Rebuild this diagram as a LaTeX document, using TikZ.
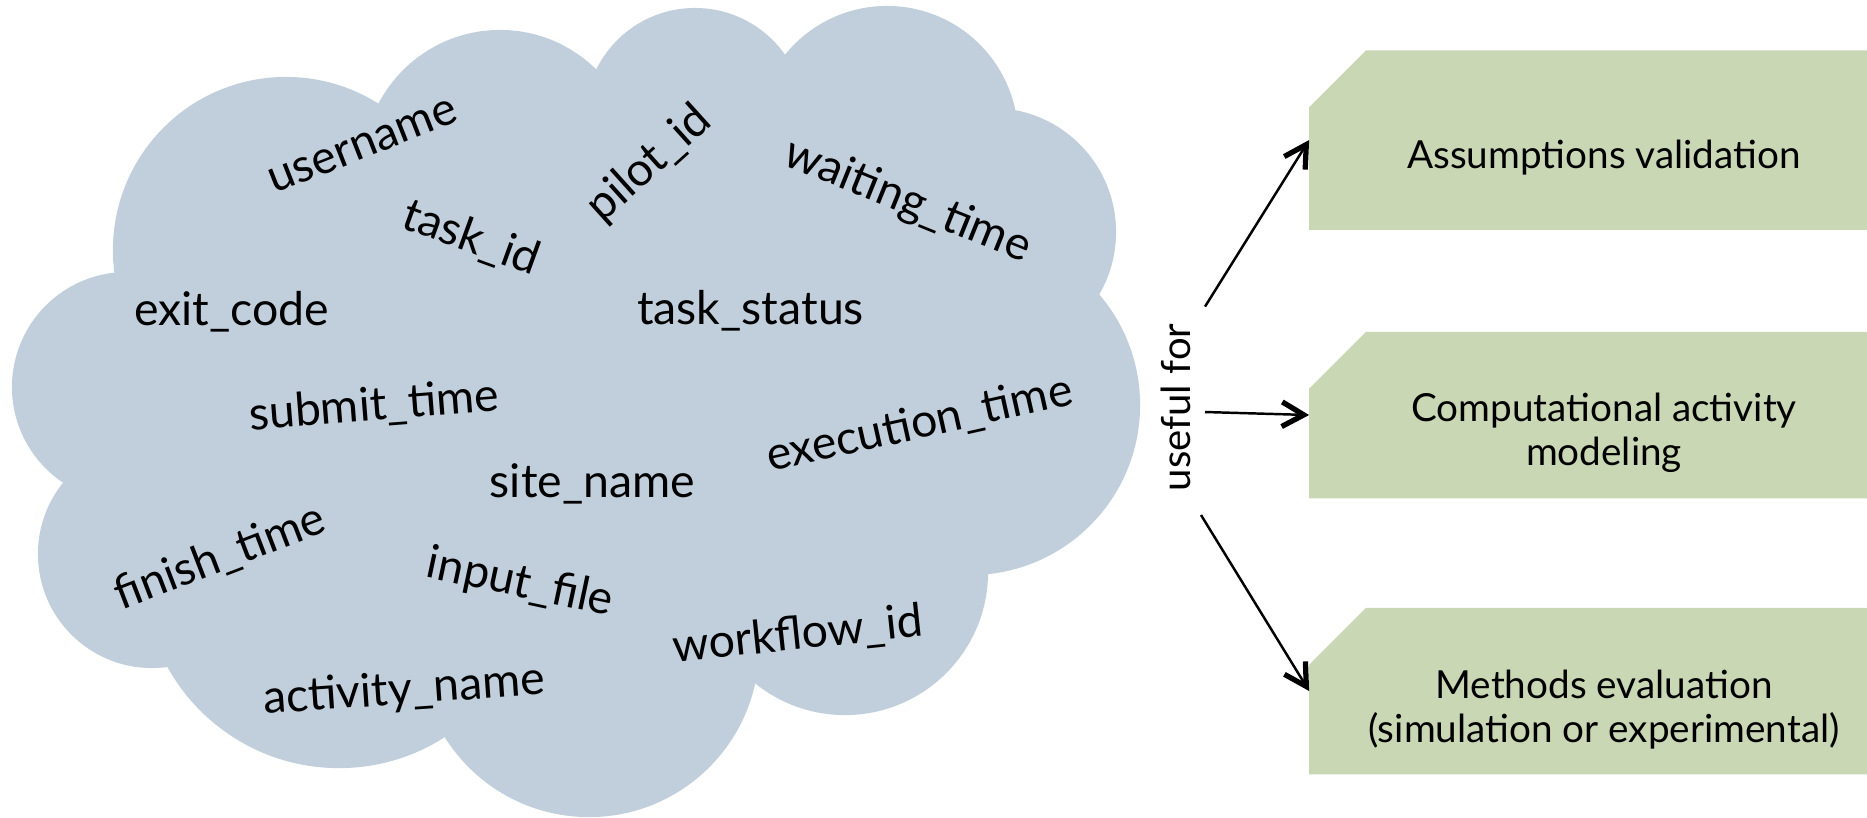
\documentclass[tikz,border=0pt]{standalone}
\usepackage{fontspec}
\setmainfont{Lato}
\usetikzlibrary{arrows.meta}
\definecolor{cloudblue}{RGB}{193,207,220}
\definecolor{boxgreen}{RGB}{201,215,180}
\begin{document}
\begin{tikzpicture}[x=0.01cm,y=-0.01cm,
  field/.style={font=\fontsize{13.2}{15}\selectfont, inner sep=0pt, text=black},
  usecase/.style={rectangle, draw=none, minimum width=5.9cm, inner sep=0pt},
  caption/.style={font=\fontsize{11}{12.6}\selectfont, align=center, inner sep=0pt},
  link/.style={-{Straight Barb[length=6.2pt,width=7pt,line width=1.5pt]}, line width=0.7pt}
]
\useasboundingbox (0,0) rectangle (1867,817);

% the cloud: a union of overlapping disks around a filled core
\fill[cloudblue]
  (286,250) -- (500,167) -- (695,118) -- (887,137) -- (992,232) -- (970,405)
  -- (845,572) -- (589,647) -- (339,572) -- (152,554) -- (127,387) -- cycle;
\fill[cloudblue] (286,250) circle[radius=1.73cm];
\fill[cloudblue] (500,167) circle[radius=1.37cm];
\fill[cloudblue] (695,118) circle[radius=1.10cm];
\fill[cloudblue] (887,137) circle[radius=1.31cm];
\fill[cloudblue] (992,232) circle[radius=1.24cm];
\fill[cloudblue] (970,405) circle[radius=1.70cm];
\fill[cloudblue] (845,572) circle[radius=1.43cm];
\fill[cloudblue] (589,647) circle[radius=1.70cm];
\fill[cloudblue] (339,572) circle[radius=1.96cm];
\fill[cloudblue] (152,554) circle[radius=1.14cm];
\fill[cloudblue] (127,387) circle[radius=1.15cm];

% trace fields scattered over the cloud
\node[field, rotate=21.5] (username)  at (363,146.5) {username};
\node[field, rotate=-20]  (taskid)    at (471,238.5) {task\_id};
\node[field, rotate=42]   (pilotid)   at (649.5,164) {pilot\_id};
\node[field, rotate=-22]  (waiting)   at (907.5,201.5) {waiting\_time};
\node[field]              (exitcode)  at (231.5,312) {exit\_code};
\node[field]              (taskstat)  at (750.5,311) {task\_status};
\node[field, rotate=4.5]  (submit)    at (374,406.5) {submit\_time};
\node[field, rotate=12.6] (execution) at (919.5,424.5) {execution\_time};
\node[field]              (site)      at (592.5,483.5) {site\_name};
\node[field, rotate=21]   (finish)    at (220,557.5) {finish\_time};
\node[field, rotate=-12]  (input)     at (520,583.5) {input\_file};
\node[field, rotate=6]    (workflow)  at (797.5,635.5) {workflow\_id};
\node[field, rotate=4]    (activity)  at (404,691) {activity\_name};

% purposes: green boxes with a cut top-left corner
\node[usecase, minimum height=1.78cm] (box1) at (1605,140) {};
\node[usecase, minimum height=1.65cm] (box2) at (1605,415) {};
\node[usecase, minimum height=1.65cm] (box3) at (1605,691) {};
\foreach \b in {box1,box2,box3}
  \fill[boxgreen] (\b.south west) -- ([yshift=-0.57cm]\b.north west)
    -- ([xshift=0.57cm]\b.north west) -- (\b.north east) -- (\b.south east) -- cycle;
\node[caption] (cap1) at (1604,158) {Assumptions validation};
\node[caption] (cap2) at (1604,433) {Computational activity\\modeling};
\node[caption] (cap3) at (1604,709.5) {Methods evaluation\\(simulation or experimental)};

\node[caption, font=\fontsize{11.4}{13}\selectfont, rotate=90] (useful) at (1176,407.5) {useful for};
\coordinate (out1) at (1205,306.6);
\coordinate (out2) at (1205,412);
\coordinate (out3) at (1201,515);
\draw[link] (out1) -- (box1.west);
\draw[link] (out2) -- (box2.west);
\draw[link] (out3) -- (box3.west);
\end{tikzpicture}
\end{document}
